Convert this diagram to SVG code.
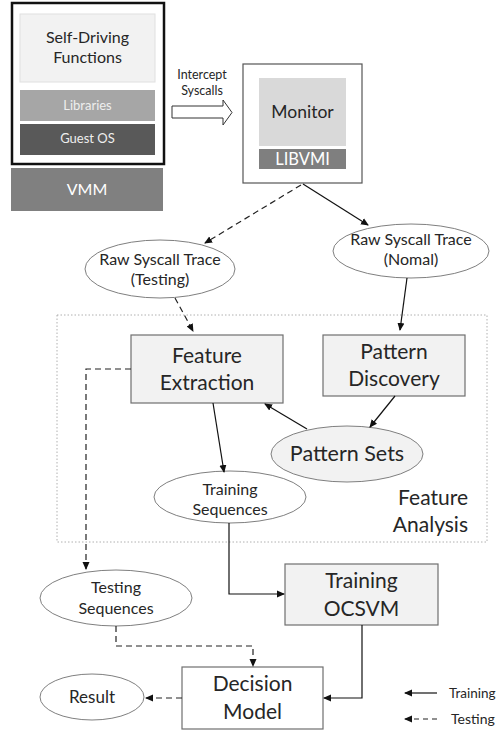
<svg xmlns="http://www.w3.org/2000/svg" width="498" height="734" viewBox="0 0 498 734">
<style>
text{font-family:Lato,"Open Sans","Liberation Sans",sans-serif;fill:#262626;text-anchor:middle}
.box{fill:#f2f2f2;stroke:#6f6f6f;stroke-width:1.2}
.wbox{fill:#fff;stroke:#6f6f6f;stroke-width:1.2}
.ell{fill:#fff;stroke:#7f7f7f;stroke-width:1}
.gell{fill:#f2f2f2;stroke:#7f7f7f;stroke-width:1}
.s{fill:none;stroke:#111;stroke-width:1.2;marker-end:url(#ah)}
.d{fill:none;stroke:#222;stroke-width:1.2;stroke-dasharray:6 4;marker-end:url(#ah)}
.big{font-size:21px}
.mid{font-size:16px}
.sm{font-size:16px}
</style>
<defs>
<marker id="ah" markerWidth="8" markerHeight="8" refX="7" refY="4" orient="auto" markerUnits="userSpaceOnUse">
<path d="M0,0.5 L8,4 L0,7.5 Z" fill="#111"/>
</marker>
</defs>
<rect width="498" height="734" fill="#fff"/>

<g id="guest-vm">
<rect x="12" y="3" width="152" height="161" fill="#fff" stroke="#111" stroke-width="2.5"/>
<rect x="20" y="14" width="135" height="68" fill="#f2f2f2" stroke="#e0e0e0"/>
<text x="87.5" y="43" class="mid">Self-Driving</text>
<text x="87.5" y="63" class="mid">Functions</text>
<rect x="20" y="90" width="135" height="31" fill="#a6a6a6"/>
<text x="87.5" y="110" style="font-size:13px;fill:#eee">Libraries</text>
<rect x="20" y="124" width="135" height="31" fill="#595959"/>
<text x="87.5" y="143" style="font-size:13px;fill:#eee">Guest OS</text>
</g>
<g id="vmm">
<rect x="11" y="168" width="152" height="43" fill="#808080"/>
<text x="87" y="195" style="font-size:16px;fill:#fff">VMM</text>
</g>
<g id="intercept">
<text x="202" y="79" style="font-size:12.5px">Intercept</text>
<text x="202" y="95" style="font-size:12.5px">Syscalls</text>
<path d="M172,106 L223,106 L223,100 L232,112.5 L223,125 L223,118 L172,118 Z" fill="#fff" stroke="#333" stroke-width="1"/>
</g>
<g id="monitor">
<rect x="243" y="64" width="119" height="119" fill="#fff" stroke="#555" stroke-width="1.2"/>
<rect x="259" y="78" width="87" height="68" fill="#d9d9d9"/>
<text x="302.5" y="118" style="font-size:17.5px">Monitor</text>
<rect x="259" y="149" width="87" height="20" fill="#7f7f7f"/>
<text x="302.5" y="165" style="font-size:16.5px;fill:#fff">LIBVMI</text>
</g>

<g id="feature-analysis-region">
<rect x="57" y="315" width="430" height="227" fill="none" stroke="#b0b0b0" stroke-width="1" stroke-dasharray="1.5 2"/>
<text x="468" y="505" class="big" style="text-anchor:end">Feature</text>
<text x="468" y="532" class="big" style="text-anchor:end">Analysis</text>
</g>

<g id="raw-testing">
<ellipse cx="160" cy="269" rx="75" ry="29" class="ell"/>
<text x="160" y="265" class="sm">Raw Syscall Trace</text>
<text x="160" y="285" class="sm">(Testing)</text>
</g>
<g id="raw-normal">
<ellipse cx="411" cy="251" rx="78" ry="27" class="ell"/>
<text x="411" y="245" class="sm">Raw Syscall Trace</text>
<text x="411" y="265" class="sm">(Nomal)</text>
</g>
<g id="feature-extraction">
<rect x="131" y="335" width="152" height="68" class="box"/>
<text x="207" y="363" class="big">Feature</text>
<text x="207" y="390" class="big">Extraction</text>
</g>
<g id="pattern-discovery">
<rect x="323" y="335" width="142" height="61" class="box"/>
<text x="394" y="359" class="big">Pattern</text>
<text x="394" y="386" class="big">Discovery</text>
</g>
<g id="pattern-sets">
<ellipse cx="347" cy="454" rx="76" ry="28" class="gell"/>
<text x="347" y="461" style="font-size:21.5px">Pattern Sets</text>
</g>
<g id="training-sequences">
<ellipse cx="230" cy="497" rx="76" ry="26" class="ell"/>
<text x="230" y="495" class="sm">Training</text>
<text x="230" y="515" class="sm">Sequences</text>
</g>
<g id="testing-sequences">
<ellipse cx="116" cy="598" rx="76" ry="28" class="ell"/>
<text x="116" y="593" class="sm">Testing</text>
<text x="116" y="614" class="sm">Sequences</text>
</g>
<g id="training-ocsvm">
<rect x="285" y="564" width="153" height="61" class="box"/>
<text x="361.5" y="588" class="big">Training</text>
<text x="361.5" y="616" class="big">OCSVM</text>
</g>
<g id="decision-model">
<rect x="182" y="667" width="141" height="62" class="wbox"/>
<text x="252.5" y="691" class="big">Decision</text>
<text x="252.5" y="719" class="big">Model</text>
</g>
<g id="result">
<ellipse cx="92" cy="697" rx="52" ry="23" class="ell"/>
<text x="92" y="703" style="font-size:17px">Result</text>
</g>

<g id="connectors">
<path d="M303,184 L368,225" class="s"/>
<path d="M301,185 L205,243" class="d"/>
<path d="M175,298 L193,331" class="d"/>
<path d="M407,278 L400,330" class="s"/>
<path d="M395,396 L370,427" class="s"/>
<path d="M307,429 L265,404" class="s"/>
<path d="M213,403 L224,472" class="s"/>
<path d="M131,369 L86,369 L86,569" class="d"/>
<path d="M229,523 L229,594 L284,594" class="s"/>
<path d="M116,626 L116,646 L253,646 L253,666" class="d"/>
<path d="M362,625 L362,698 L324,698" class="s"/>
<path d="M182,698 L146,698" class="d"/>
</g>

<g id="legend">
<path d="M437,693 L405,693" class="s"/>
<text x="449" y="698" style="font-size:13.5px;text-anchor:start">Training</text>
<path d="M437,719 L405,719" class="d" style="stroke-dasharray:5 4"/>
<text x="451" y="724" style="font-size:14px;text-anchor:start">Testing</text>
</g>
</svg>
